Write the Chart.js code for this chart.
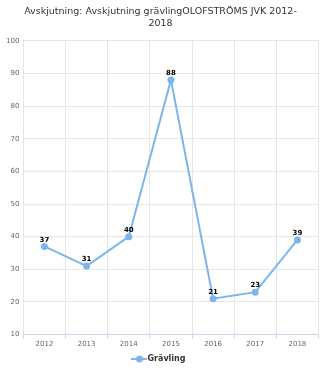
<!DOCTYPE html>
<html>
<head>
<meta charset="utf-8">
<script src="https://cdn.jsdelivr.net/npm/chart.js@4"></script>
<style>
  html, body { margin: 0; padding: 0; background: #fff; }
  #wrap { width: 323px; height: 377px; }
</style>
</head>
<body>
<div id="wrap"><canvas id="myChart" width="323" height="377"></canvas></div>
<script>
const years = ['2012', '2013', '2014', '2015', '2016', '2017', '2018'];
const gravling = [37, 31, 40, 88, 21, 23, 39];
const titleLines = ['Avskjutning: Avskjutning grävlingOLOFSTRÖMS JVK 2012-', '2018'];

const FONT = '"DejaVu Sans", Verdana, sans-serif';
const LINE_COLOR = '#7cb5ec';

// legend symbol: short line with a dot in the middle
const legendIcon = document.createElement('canvas');
legendIcon.width = 16;
legendIcon.height = 8;
(function () {
    const c = legendIcon.getContext('2d');
    c.strokeStyle = LINE_COLOR;
    c.lineWidth = 2;
    c.beginPath();
    c.moveTo(0, 4);
    c.lineTo(16, 4);
    c.stroke();
    c.fillStyle = LINE_COLOR;
    c.beginPath();
    c.arc(8, 4, 3.5, 0, Math.PI * 2);
    c.fill();
})();

// values printed above each point
const labelPlugin = {
    id: 'pointLabels',
    afterDatasetsDraw(chart) {
        const ctx = chart.ctx;
        const meta = chart.getDatasetMeta(0);
        ctx.save();
        ctx.font = 'bold 7px ' + FONT;
        ctx.fillStyle = '#000';
        ctx.textAlign = 'center';
        ctx.textBaseline = 'bottom';
        meta.data.forEach((pt, i) => {
            ctx.fillText(gravling[i], pt.x, pt.y - 3);
        });
        ctx.restore();
    }
};

const data = {
    labels: years,
    datasets: [{
        label: 'Grävling',
        data: gravling,
        borderColor: LINE_COLOR,
        backgroundColor: LINE_COLOR,
        borderWidth: 2,
        pointRadius: 2.5,
        pointHoverRadius: 2.5,
        tension: 0
    }]
};

const config = {
    type: 'line',
    data: data,
    plugins: [labelPlugin],
    options: {
        responsive: false,
        animation: false,
        layout: { padding: { left: 2, right: 4, top: 4, bottom: 4 } },
        plugins: {
            title: {
                display: true,
                text: titleLines,
                color: '#333',
                font: { family: FONT, size: 9.5, weight: 'normal', lineHeight: 1.25 },
                padding: { top: 2, bottom: 11 }
            },
            legend: {
                position: 'bottom',
                labels: {
                    usePointStyle: true,
                    pointStyle: legendIcon,
                    color: '#333',
                    font: { family: FONT, size: 8, weight: 'bold' },
                    padding: 6
                }
            },
            tooltip: { enabled: false }
        },
        scales: {
            x: {
                offset: true,
                grid: { offset: true, color: '#e6e6e6', tickLength: 4, tickColor: '#ccd6eb' },
                border: { color: '#ccd6eb' },
                ticks: { color: '#666', font: { family: FONT, size: 7 }, padding: 1 }
            },
            y: {
                min: 10,
                max: 100,
                ticks: { stepSize: 10, color: '#666', font: { family: FONT, size: 7 }, padding: 4 },
                grid: { color: '#e6e6e6', drawTicks: false },
                border: { display: false }
            }
        }
    }
};

const myChart = new Chart(document.getElementById('myChart'), config);
</script>
</body>
</html>
